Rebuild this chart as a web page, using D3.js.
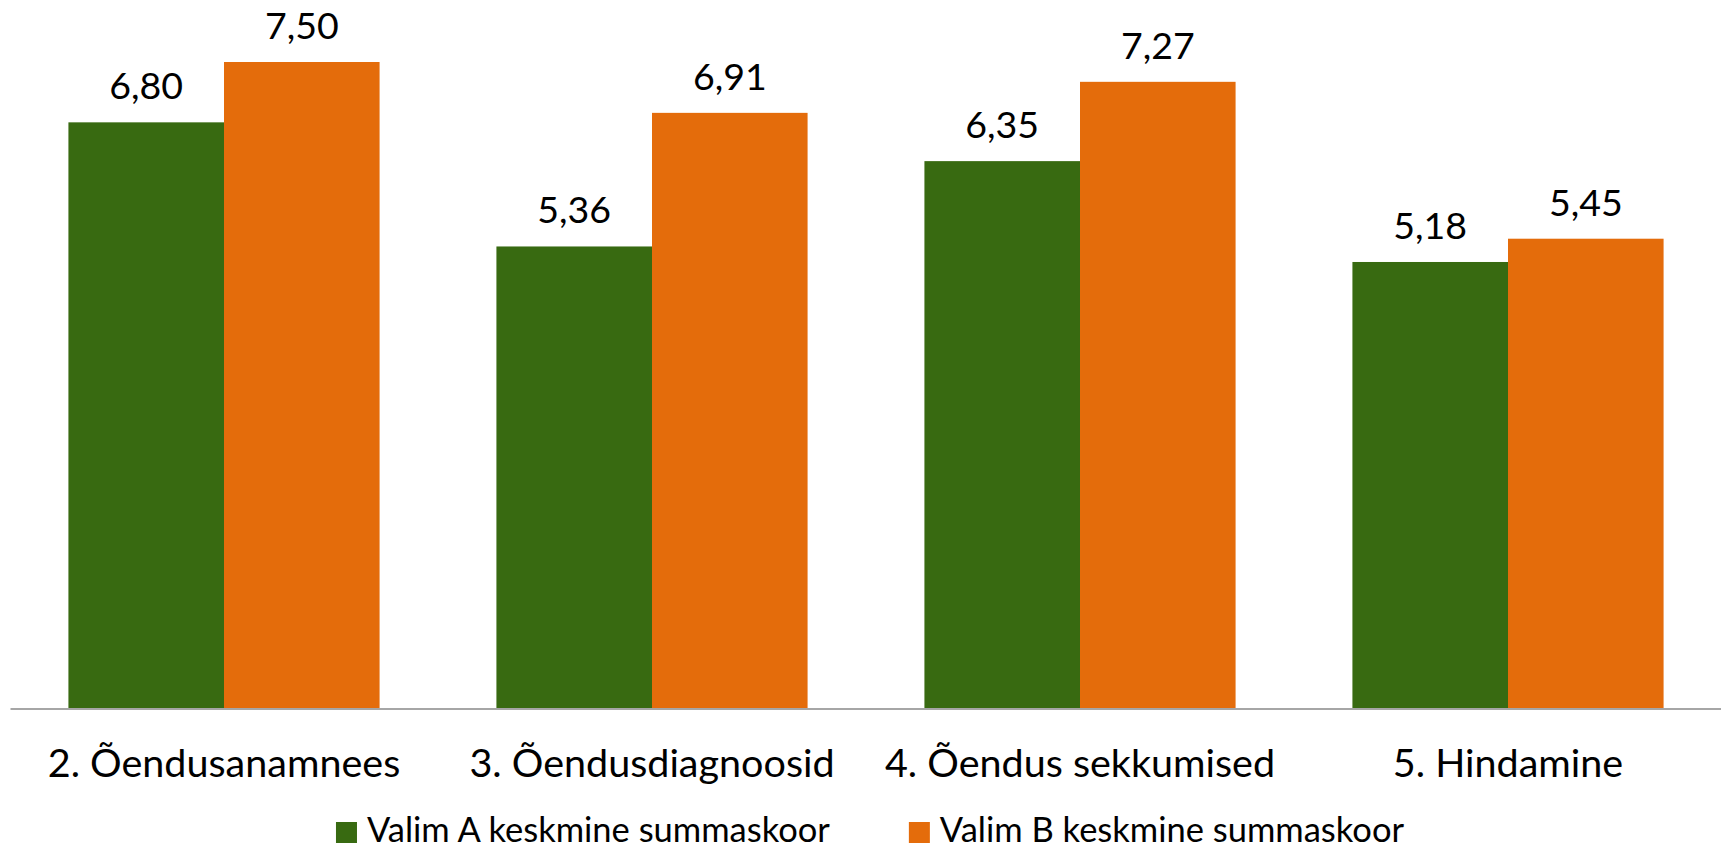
<!DOCTYPE html>
<html>
<head>
<meta charset="utf-8">
<script src="https://cdn.jsdelivr.net/npm/d3@7"></script>
<style>
  html, body { margin: 0; padding: 0; background: #ffffff; }
  svg { display: block; }
  text { font-family: Lato, "Open Sans", sans-serif; fill: #000000; }
</style>
</head>
<body>
<svg id="chart" width="1721" height="849"></svg>
<script>
const categories = ["2. Õendusanamnees", "3. Õendusdiagnoosid", "4. Õendus sekkumised", "5. Hindamine"];
const seriesNames = ["Valim A keskmine summaskoor", "Valim B keskmine summaskoor"];
const valimA = [6.80, 5.36, 6.35, 5.18];
const valimB = [7.50, 6.91, 7.27, 5.45];
const colors = ["#386A11", "#E46C0B"];

const svg = d3.select("#chart");
const baseY = 708.5;

const x0 = d3.scaleBand().domain(categories).range([10, 1722]).paddingInner(0.273).paddingOuter(0.1365);
const x1 = d3.scaleBand().domain(seriesNames).range([0, x0.bandwidth()]).padding(0);
const y = d3.scaleLinear().domain([0, 8]).range([baseY, baseY - 8 * 86.2]);

const fmt = v => d3.format(".2f")(v).replace(".", ",");

const data = categories.map((c, i) => ({ cat: c, vals: [valimA[i], valimB[i]] }));

const groups = svg.append("g").selectAll("g").data(data).join("g")
  .attr("transform", d => `translate(${x0(d.cat)},0)`);

groups.selectAll("rect").data(d => d.vals.map((v, j) => ({ v, s: seriesNames[j], j }))).join("rect")
  .attr("x", d => x1(d.s))
  .attr("y", d => y(d.v))
  .attr("width", x1.bandwidth())
  .attr("height", d => baseY - y(d.v))
  .attr("fill", d => colors[d.j]);

groups.selectAll("text.val").data(d => d.vals.map((v, j) => ({ v, s: seriesNames[j], j }))).join("text")
  .attr("class", "val")
  .attr("x", d => x1(d.s) + x1.bandwidth() / 2)
  .attr("y", d => y(d.v) - 23)
  .attr("text-anchor", "middle")
  .style("font-size", "37.5px")
  .text(d => fmt(d.v));

// x axis
const axis = svg.append("g").attr("transform", `translate(0,${baseY})`)
  .call(d3.axisBottom(x0).tickSize(0).tickSizeOuter(0));
axis.select(".domain").attr("stroke", "#A6A6A6").attr("stroke-width", 2);
axis.selectAll(".tick text")
  .attr("y", 777 - baseY)
  .attr("dy", 0)
  .style("font-size", "39.5px")
  .style("font-family", "Lato, 'Open Sans', sans-serif")
  .attr("fill", "#000");

// legend
const legend = svg.append("g");
const items = legend.selectAll("g").data(seriesNames).join("g");
items.append("rect").attr("width", 21).attr("height", 21).attr("y", 822)
  .attr("fill", (d, i) => colors[i]);
items.append("text").attr("x", 31).attr("y", 842)
  .style("font-size", "34.5px")
  .text(d => d);
let widths = [];
items.each(function() { widths.push(31 + d3.select(this).select("text").node().getComputedTextLength()); });
const gap = 79;
const total = widths[0] + gap + widths[1];
let startX = 870 - total / 2;
items.attr("transform", (d, i) => {
  const xx = i === 0 ? startX : startX + widths[0] + gap;
  return `translate(${xx},0)`;
});
</script>
</body>
</html>
